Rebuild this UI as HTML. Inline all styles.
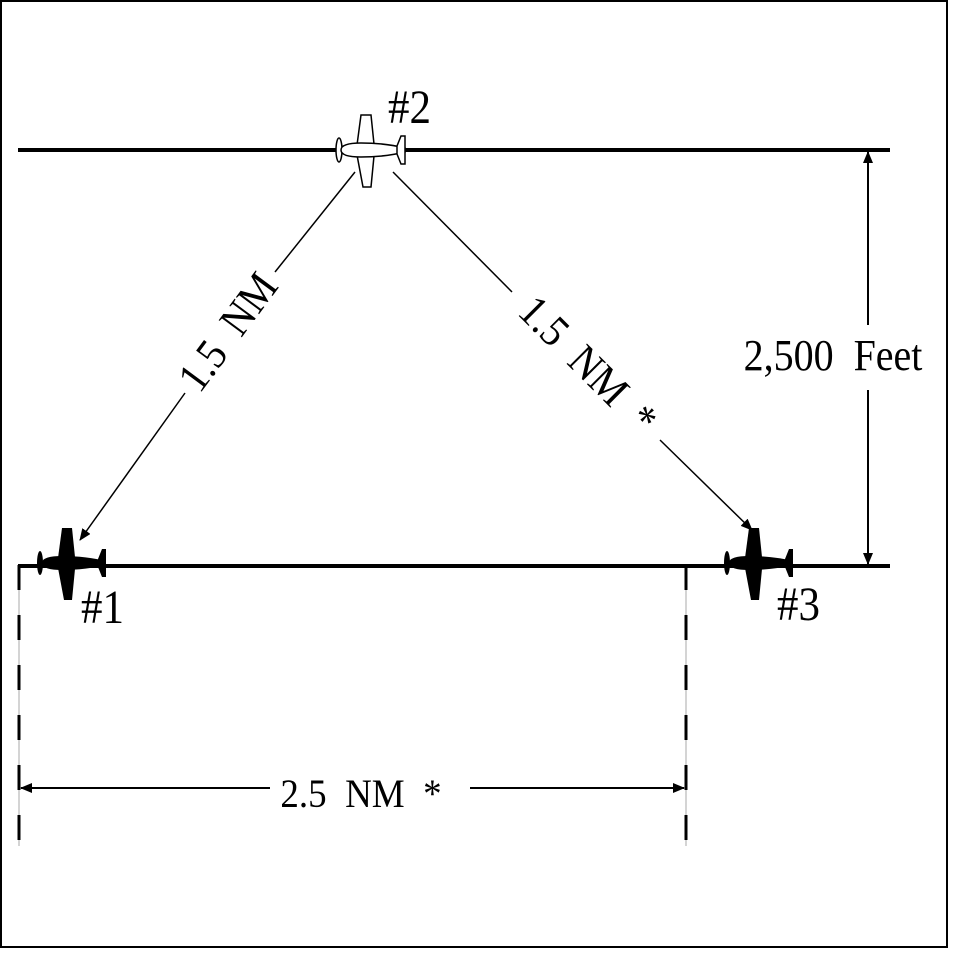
<!DOCTYPE html>
<html><head><style>html,body{margin:0;padding:0;background:#fff}svg{display:block}text{white-space:pre}</style></head>
<body>
<svg width="955" height="955" viewBox="0 0 955 955" xmlns="http://www.w3.org/2000/svg" font-family="Liberation Serif, serif" xml:space="preserve">
<defs>
<marker id="a" markerWidth="12" markerHeight="10" refX="11" refY="5" orient="auto" markerUnits="userSpaceOnUse"><path d="M0,0 L12,5 L0,10 Z" fill="#000"/></marker>
<g id="plane">
  <ellipse cx="2" cy="0" rx="3" ry="12"/>
  <path d="M24,-35 L34,-35 L37,-6 L37,6 L34,37 L26,37 L20,5 L20,-5 Z"/>
  <path d="M4,0 C4,-5 12,-7 24,-7 C40,-7 56,-5 68,-2 L68,2 C56,5 40,7 24,7 C12,7 4,5 4,0 Z"/>
  <path d="M60,-4 L64,-14 L68,-14 L68,14 L64,14 L60,4 Z"/>
</g>
</defs>
<rect x="1" y="1" width="946" height="946" fill="none" stroke="#000" stroke-width="2"/>
<line x1="18" y1="150" x2="890" y2="150" stroke="#000" stroke-width="4"/>
<line x1="18" y1="566" x2="890" y2="566" stroke="#000" stroke-width="4"/>
<line x1="19" y1="566" x2="19" y2="846" stroke="#aaa" stroke-width="1"/>
<line x1="686" y1="566" x2="686" y2="846" stroke="#aaa" stroke-width="1"/>
<line x1="19" y1="565" x2="19" y2="842" stroke="#000" stroke-width="3" stroke-dasharray="25 25"/>
<line x1="686" y1="565" x2="686" y2="842" stroke="#000" stroke-width="3" stroke-dasharray="25 25"/>
<g transform="translate(38,563)" fill="#000"><use href="#plane"/></g>
<g transform="translate(725,563)" fill="#000"><use href="#plane"/></g>
<g transform="translate(337,150)" fill="#fff" stroke="#000" stroke-width="1.5"><use href="#plane"/></g>
<line x1="355" y1="172" x2="275" y2="272" stroke="#000" stroke-width="1.5"/>
<line x1="185" y1="393" x2="80" y2="540" stroke="#000" stroke-width="1.5" marker-end="url(#a)"/>
<line x1="393" y1="172" x2="512" y2="292" stroke="#000" stroke-width="1.5"/>
<line x1="660" y1="440" x2="752" y2="530" stroke="#000" stroke-width="1.5" marker-end="url(#a)"/>
<g transform="translate(228,332) rotate(-53.5) scale(1,1.1)"><text x="0" y="13" font-size="40" text-anchor="middle">1.5  NM</text></g>
<g transform="translate(588,365) rotate(45) scale(1,1.1)"><text x="0" y="13" font-size="40" text-anchor="middle">1.5  NM  *</text></g>
<line x1="868" y1="325" x2="868" y2="152" stroke="#000" stroke-width="2" marker-end="url(#a)"/>
<line x1="868" y1="390" x2="868" y2="564" stroke="#000" stroke-width="2" marker-end="url(#a)"/>
<g transform="translate(833,357) scale(1,1.1)"><text x="0" y="12" font-size="40" text-anchor="middle">2,500  Feet</text></g>
<line x1="270" y1="788" x2="21" y2="788" stroke="#000" stroke-width="2" marker-end="url(#a)"/>
<line x1="470" y1="788" x2="684" y2="788" stroke="#000" stroke-width="2" marker-end="url(#a)"/>
<g transform="translate(361,794) scale(1,1.1)"><text x="0" y="12" font-size="37" text-anchor="middle">2.5  NM  *</text></g>
<g transform="translate(81,623) scale(1,1.1)"><text x="0" y="0" font-size="43">#1</text></g>
<g transform="translate(388,123) scale(1,1.1)"><text x="0" y="0" font-size="43">#2</text></g>
<g transform="translate(777,620) scale(1,1.1)"><text x="0" y="0" font-size="43">#3</text></g>
</svg>
</body></html>
